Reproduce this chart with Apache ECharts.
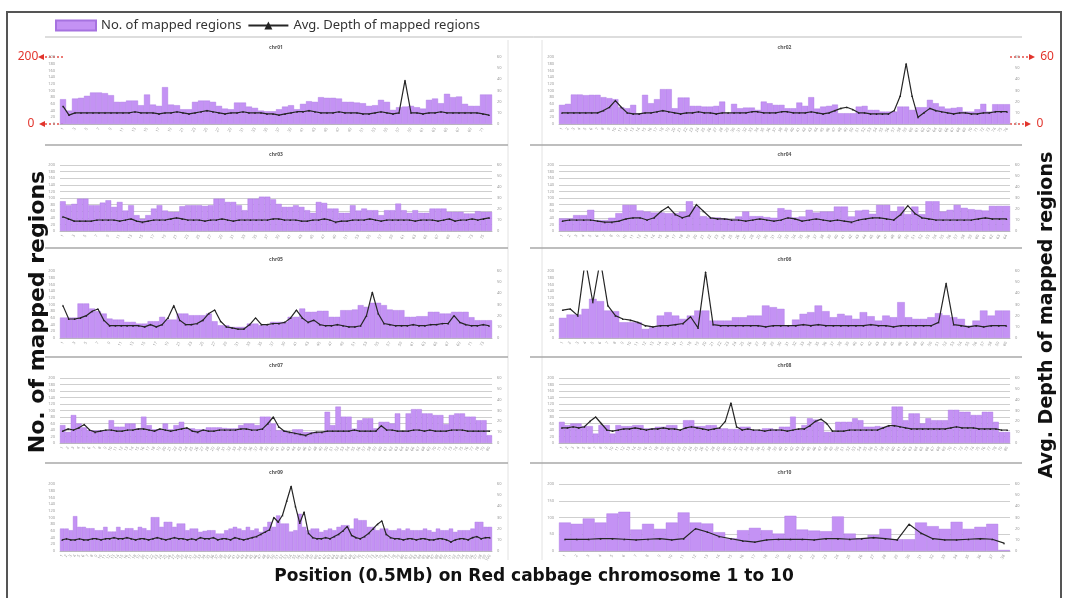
<!DOCTYPE html>
<html>
<head>
<meta charset="utf-8">
<script src="https://cdn.jsdelivr.net/npm/echarts@6/dist/echarts.min.js"></script>
<style>
html, body { margin: 0; padding: 0; background: #fff; }
#main { width: 1068px; height: 598px; }
</style>
</head>
<body>
<div id="main"></div>
<script>
// No. of mapped regions (left axis) and avg. depth (right axis) per 0.5 Mb bin
const chr01Count = [74, 40, 76, 78, 84, 94, 94, 92, 86, 66, 66, 70, 70, 56, 88, 58, 54, 110, 58, 56,
  44, 44, 66, 70, 70, 66, 54, 46, 44, 64, 64, 52, 48, 40, 38, 38, 44, 52, 56, 44,
  60, 68, 66, 80, 78, 78, 76, 66, 66, 64, 62, 54, 56, 72, 66, 42, 50, 52, 54, 50,
  46, 72, 76, 62, 90, 80, 82, 60, 54, 54, 88, 88];
const chr01Depth = [16, 8, 10, 10, 10, 10, 10, 10, 10, 10, 10, 10, 11, 10, 10, 10, 9, 10, 10, 11,
  10, 9, 10, 11, 12, 11, 10, 9, 10, 10, 11, 10, 10, 10, 9, 9, 8, 9, 10, 11,
  11, 12, 11, 10, 10, 10, 11, 10, 10, 10, 9, 9, 10, 11, 10, 9, 10, 39, 10, 10,
  9, 10, 10, 11, 10, 10, 10, 10, 10, 10, 9, 8];

const chr02Count = [57, 60, 88, 88, 86, 87, 87, 80, 77, 74, 50, 47, 57, 32, 87, 62, 74, 104, 104, 47,
  79, 79, 54, 54, 52, 52, 54, 67, 32, 60, 47, 49, 49, 42, 67, 62, 57, 57, 47, 47,
  64, 54, 80, 46, 52, 54, 58, 32, 32, 32, 52, 54, 42, 42, 37, 37, 37, 52, 52, 42,
  50, 50, 72, 62, 52, 46, 48, 50, 37, 37, 44, 60, 37, 59, 59, 59];
const chr02Depth = [10, 10, 10, 10, 10, 10, 10, 12, 15, 21, 15, 10, 9, 9, 10, 10, 11, 12, 11, 10,
  9, 10, 10, 11, 10, 10, 9, 10, 10, 10, 10, 10, 11, 11, 10, 10, 10, 11, 11, 10,
  10, 10, 11, 10, 9, 10, 12, 14, 15, 13, 10, 10, 9, 9, 9, 9, 12, 25, 54, 25,
  6, 10, 14, 12, 11, 10, 9, 10, 10, 9, 9, 10, 10, 11, 11, 11];

const chr03Count = [90, 78, 82, 98, 98, 78, 78, 86, 93, 73, 88, 62, 78, 48, 37, 48, 68, 78, 62, 58,
  58, 75, 78, 78, 78, 76, 78, 98, 98, 88, 88, 78, 63, 98, 98, 104, 104, 96, 82, 73,
  73, 78, 73, 63, 55, 88, 85, 68, 68, 55, 55, 78, 62, 68, 63, 63, 48, 63, 63, 83,
  63, 55, 63, 55, 55, 68, 68, 68, 58, 58, 58, 53, 53, 60, 58, 58];
const chr03Depth = [13, 11, 9, 9, 9, 9, 10, 10, 10, 10, 9, 10, 11, 9, 8, 9, 10, 10, 10, 11,
  12, 11, 10, 10, 10, 9, 10, 10, 11, 10, 9, 10, 10, 10, 10, 10, 10, 11, 11, 10,
  10, 10, 9, 9, 10, 10, 11, 10, 8, 9, 9, 10, 10, 10, 11, 10, 9, 10, 10, 10,
  10, 10, 9, 10, 10, 10, 9, 10, 11, 9, 10, 10, 11, 10, 11, 12];

const chr04Count = [38, 38, 48, 48, 64, 33, 33, 40, 54, 79, 79, 62, 59, 56, 56, 54, 54, 58, 90, 74,
  45, 41, 41, 38, 36, 44, 59, 45, 45, 42, 40, 69, 64, 41, 44, 64, 56, 59, 59, 74,
  74, 44, 62, 64, 52, 79, 79, 60, 74, 51, 74, 51, 90, 90, 59, 64, 79, 70, 66, 64,
  62, 76, 76, 76];
const chr04Depth = [9, 10, 10, 10, 10, 9, 8, 8, 9, 11, 12, 12, 10, 12, 18, 22, 15, 12, 14, 24,
  18, 12, 11, 11, 10, 10, 9, 10, 11, 10, 9, 10, 12, 11, 9, 10, 11, 10, 9, 10,
  9, 8, 10, 11, 12, 12, 11, 10, 15, 23, 16, 12, 11, 10, 10, 10, 10, 10, 10, 11,
  12, 11, 11, 11];

const chr05Count = [61, 61, 61, 103, 103, 88, 80, 73, 58, 55, 55, 48, 48, 43, 43, 50, 50, 63, 55, 55,
  73, 73, 68, 68, 68, 73, 50, 38, 38, 33, 33, 33, 43, 43, 38, 38, 48, 48, 48, 63,
  63, 88, 78, 78, 81, 81, 63, 63, 83, 83, 85, 98, 93, 105, 105, 98, 85, 83, 83, 63,
  63, 65, 65, 78, 78, 73, 73, 78, 78, 78, 62, 53, 53, 53];
const chr05Depth = [29, 17, 17, 18, 20, 24, 26, 16, 11, 11, 11, 11, 11, 11, 10, 12, 10, 12, 18, 29,
  16, 12, 12, 13, 16, 22, 25, 15, 10, 9, 8, 8, 12, 18, 12, 12, 13, 13, 14, 18,
  25, 18, 14, 16, 12, 11, 11, 12, 11, 10, 10, 11, 20, 41, 22, 13, 12, 11, 11, 11,
  12, 11, 11, 12, 12, 13, 13, 20, 14, 12, 11, 11, 12, 11];

const chr06Count = [60, 70, 70, 87, 117, 110, 82, 80, 47, 47, 47, 27, 32, 67, 77, 67, 57, 67, 82, 82,
  52, 52, 52, 62, 62, 67, 67, 97, 92, 87, 37, 55, 72, 77, 97, 80, 62, 72, 67, 57,
  77, 65, 52, 67, 62, 107, 62, 57, 57, 62, 74, 68, 62, 57, 37, 52, 82, 67, 82, 82];
const chr06Depth = [25, 26, 20, 70, 32, 70, 29, 20, 17, 16, 14, 11, 10, 11, 11, 12, 13, 19, 9, 59,
  12, 11, 11, 11, 11, 11, 11, 10, 11, 11, 11, 11, 12, 11, 12, 11, 11, 11, 11, 11,
  11, 12, 11, 11, 10, 11, 11, 11, 11, 11, 14, 49, 12, 11, 10, 11, 10, 11, 11, 11];

const chr07Count = [55, 34, 86, 60, 48, 39, 39, 39, 39, 70, 50, 50, 60, 60, 45, 81, 55, 42, 42, 60,
  42, 55, 65, 45, 45, 42, 42, 48, 48, 48, 46, 45, 45, 55, 60, 60, 55, 81, 81, 60,
  39, 39, 34, 42, 42, 34, 34, 34, 34, 96, 55, 112, 81, 81, 44, 70, 76, 76, 45, 65,
  65, 60, 91, 37, 91, 104, 104, 91, 91, 86, 86, 58, 86, 91, 91, 81, 81, 70, 70, 24];
const chr07Depth = [11, 13, 12, 14, 17, 12, 10, 11, 12, 12, 11, 11, 12, 12, 13, 13, 12, 11, 13, 12,
  11, 12, 13, 14, 11, 10, 12, 11, 11, 12, 12, 12, 12, 13, 13, 12, 12, 13, 18, 24,
  15, 11, 10, 9, 8, 7, 9, 10, 10, 11, 11, 11, 11, 11, 12, 11, 11, 11, 11, 16,
  12, 12, 11, 11, 11, 12, 12, 11, 12, 11, 11, 11, 12, 12, 12, 11, 11, 11, 11, 11];

const chr08Count = [65, 55, 60, 60, 52, 52, 29, 55, 55, 29, 55, 52, 52, 55, 55, 45, 45, 50, 50, 55,
  55, 40, 70, 70, 52, 52, 55, 55, 45, 45, 43, 43, 50, 50, 40, 40, 45, 45, 42, 50,
  50, 81, 42, 55, 76, 72, 65, 34, 34, 65, 65, 65, 76, 70, 50, 50, 52, 50, 50, 112,
  112, 70, 91, 91, 60, 76, 70, 70, 70, 102, 102, 96, 96, 86, 86, 96, 96, 65, 34, 34];
const chr08Depth = [14, 14, 15, 14, 15, 20, 24, 18, 12, 11, 12, 13, 13, 14, 13, 12, 13, 13, 14, 13,
  13, 12, 14, 15, 14, 13, 12, 13, 14, 20, 37, 15, 12, 13, 12, 12, 11, 12, 12, 12,
  11, 12, 13, 13, 16, 20, 22, 18, 11, 11, 11, 12, 12, 12, 12, 12, 12, 14, 16, 16,
  15, 14, 13, 13, 13, 13, 13, 13, 13, 14, 15, 14, 14, 14, 13, 13, 13, 13, 12, 12];

const chr09Count = [67, 67, 62, 104, 72, 72, 68, 68, 62, 62, 72, 58, 58, 72, 62, 68, 68, 62, 72, 68,
  62, 101, 101, 72, 87, 87, 72, 82, 82, 62, 67, 67, 57, 60, 62, 62, 52, 52, 62, 67,
  72, 67, 62, 72, 62, 67, 57, 72, 87, 72, 106, 82, 82, 58, 62, 111, 72, 62, 67, 67,
  57, 62, 67, 62, 72, 77, 77, 67, 97, 92, 92, 72, 72, 62, 67, 67, 62, 62, 67, 62,
  67, 62, 62, 62, 67, 62, 57, 67, 62, 62, 67, 57, 62, 62, 62, 67, 87, 87, 72, 72];
const chr09Depth = [10, 11, 10, 10, 11, 10, 10, 11, 11, 10, 11, 11, 12, 11, 11, 12, 11, 10, 11, 11,
  10, 11, 12, 11, 10, 11, 12, 11, 11, 10, 11, 10, 12, 11, 11, 12, 10, 11, 11, 10,
  12, 11, 10, 11, 12, 13, 15, 17, 19, 30, 26, 32, 45, 58, 40, 25, 35, 16, 12, 11,
  11, 12, 11, 13, 15, 18, 22, 14, 12, 11, 13, 16, 20, 24, 27, 15, 12, 11, 11, 10,
  11, 11, 10, 11, 11, 10, 10, 11, 11, 10, 8, 10, 11, 11, 10, 12, 13, 11, 12, 12];

const chr10Count = [85, 81, 97, 85, 112, 117, 64, 81, 66, 85, 115, 85, 82, 56, 38, 62, 69, 62, 52, 105,
  64, 61, 59, 103, 52, 38, 48, 66, 35, 35, 85, 74, 66, 87, 66, 72, 81, 3];
const chr10Depth = [10.5, 10.5, 10.5, 11, 11, 10.5, 10, 10.5, 11, 10, 11, 20, 17, 13, 11, 9, 8, 10, 10.5, 10.5,
  10.5, 10, 11, 11, 10.5, 11, 12, 11, 10, 24, 16, 11, 10, 10, 10.5, 11, 10.5, 7];

const panelNames = ['chr01', 'chr02', 'chr03', 'chr04', 'chr05', 'chr06', 'chr07', 'chr08', 'chr09', 'chr10'];
const countData = [chr01Count, chr02Count, chr03Count, chr04Count, chr05Count, chr06Count, chr07Count, chr08Count, chr09Count, chr10Count];
const depthData = [chr01Depth, chr02Depth, chr03Depth, chr04Depth, chr05Depth, chr06Depth, chr07Depth, chr08Depth, chr09Depth, chr10Depth];
const countMax = 200;
const depthMax = 60;
const countStep = [20, 20, 20, 20, 20, 20, 20, 20, 20, 50];
const depthStep = 10;
const showGridLines = [false, false, true, true, false, false, true, true, false, true];
const labelSkip = [1, 0, 1, 0, 1, 0, 0, 0, 0, 0];

const NAME_COUNT = 'No. of mapped regions';
const NAME_DEPTH = 'Avg. Depth of mapped regions';

// layout of the panels
const colLeft = [60, 559];
const colWidth = [432, 451];
const rowTop = [57, 165, 271, 378, 484];
const rowBottom = [124, 231, 338, 443, 551];
const titleY = [48, 155, 260, 366, 473];

const FONT = '"Noto Sans", "DejaVu Sans", sans-serif';
const BOLD = '"DejaVu Sans", "Noto Sans", sans-serif';
const red = '#e2342c';

const grids = [], xAxes = [], yAxes = [], series = [], graphics = [];

panelNames.forEach((name, i) => {
  const col = i % 2, row = Math.floor(i / 2);
  const cats = countData[i].map((v, k) => String(k + 1));
  grids.push({
    left: colLeft[col], top: rowTop[row], width: colWidth[col],
    height: rowBottom[row] - rowTop[row], outerBoundsMode: 'none'
  });
  xAxes.push({
    gridIndex: i, type: 'category', data: cats, boundaryGap: true,
    axisTick: { show: false },
    axisLine: { lineStyle: { color: '#bdbdbd', width: 1 } },
    axisLabel: { interval: labelSkip[i], rotate: 60, fontSize: 4, color: '#999', margin: 4, fontFamily: FONT }
  });
  yAxes.push({
    gridIndex: i, type: 'value', min: 0, max: countMax, interval: countStep[i], position: 'left',
    axisLine: { show: false }, axisTick: { show: false },
    axisLabel: { fontSize: 4, color: '#999', margin: 5, fontFamily: FONT },
    splitLine: { show: showGridLines[i], lineStyle: { color: '#cfcfcf', width: 1 } }
  });
  yAxes.push({
    gridIndex: i, type: 'value', min: 0, max: depthMax, interval: depthStep, position: 'right',
    axisLine: { show: false }, axisTick: { show: false },
    axisLabel: { fontSize: 4, color: '#999', margin: 5, fontFamily: FONT },
    splitLine: { show: false }
  });
  series.push({
    name: NAME_COUNT, type: 'bar', xAxisIndex: i, yAxisIndex: 2 * i,
    data: countData[i], barCategoryGap: '0%',
    itemStyle: { color: '#c492f4', borderColor: '#a672e0', borderWidth: 0.4 }
  });
  series.push({
    name: NAME_DEPTH, type: 'line', xAxisIndex: i, yAxisIndex: 2 * i + 1,
    data: depthData[i], symbol: 'triangle', symbolSize: 2, z: 5,
    lineStyle: { color: '#262626', width: 1.2 }, itemStyle: { color: '#222' }
  });
  graphics.push({
    type: 'text', x: colLeft[col] + colWidth[col] / 2, y: titleY[row],
    style: { text: name, font: 'bold 5px ' + FONT, fill: '#555', textAlign: 'center', textVerticalAlign: 'middle' }
  });
});

// frame, separators
graphics.push(
  { type: 'rect', shape: { x: 7, y: 12, width: 1054, height: 590 }, style: { fill: null, stroke: '#555', lineWidth: 2 } },
  { type: 'line', shape: { x1: 45, y1: 37, x2: 1022, y2: 37 }, style: { stroke: '#bbb', lineWidth: 1 } },
  { type: 'line', shape: { x1: 508, y1: 40, x2: 508, y2: 560 }, style: { stroke: '#e2e2e2', lineWidth: 1 } },
  { type: 'line', shape: { x1: 542, y1: 40, x2: 542, y2: 560 }, style: { stroke: '#e2e2e2', lineWidth: 1 } }
);
[145, 248, 357, 463].forEach(y => {
  graphics.push(
    { type: 'line', shape: { x1: 45, y1: y, x2: 508, y2: y }, style: { stroke: '#a8a8a8', lineWidth: 1.5 } },
    { type: 'line', shape: { x1: 530, y1: y, x2: 1022, y2: y }, style: { stroke: '#a8a8a8', lineWidth: 1.5 } }
  );
});

// red scale marks
function arrow(tipX, y, fromX, dir) {
  const back = tipX - dir * 6;
  graphics.push(
    { type: 'line', shape: { x1: fromX, y1: y, x2: back, y2: y }, style: { stroke: red, lineWidth: 1.3, lineDash: [2, 2] } },
    { type: 'polygon', shape: { points: [[tipX, y], [back, y - 3], [back, y + 3]] }, style: { fill: red } }
  );
}
arrow(38, 57, 63, -1);
arrow(39, 124, 63, -1);
arrow(1035, 57, 1010, 1);
arrow(1031, 124, 1010, 1);
graphics.push(
  { type: 'text', x: 28, y: 57, style: { text: '200', font: '12px ' + FONT, fill: red, textAlign: 'center', textVerticalAlign: 'middle' } },
  { type: 'text', x: 31, y: 124, style: { text: '0', font: '12px ' + FONT, fill: red, textAlign: 'center', textVerticalAlign: 'middle' } },
  { type: 'text', x: 1047, y: 57, style: { text: '60', font: '12px ' + FONT, fill: red, textAlign: 'center', textVerticalAlign: 'middle' } },
  { type: 'text', x: 1040, y: 124, style: { text: '0', font: '12px ' + FONT, fill: red, textAlign: 'center', textVerticalAlign: 'middle' } }
);

// axis titles
graphics.push(
  { type: 'text', x: 38, y: 312, rotation: Math.PI / 2,
    style: { text: 'No. of mapped regions', font: 'bold 22px ' + BOLD, fill: '#111', textAlign: 'center', textVerticalAlign: 'middle' } },
  { type: 'text', x: 1047, y: 315, rotation: Math.PI / 2,
    style: { text: 'Avg. Depth of mapped regions', font: 'bold 19px ' + BOLD, fill: '#111', textAlign: 'center', textVerticalAlign: 'middle' } },
  { type: 'text', x: 534, y: 577,
    style: { text: 'Position (0.5Mb) on Red cabbage chromosome 1 to 10', font: 'bold 17px ' + BOLD, fill: '#111', textAlign: 'center', textVerticalAlign: 'middle' } }
);

const chart = echarts.init(document.getElementById('main'), null, { renderer: 'canvas' });
chart.setOption({
  animation: false,
  backgroundColor: '#fff',
  legend: {
    left: 50, top: 14, itemWidth: 40, itemHeight: 10, itemGap: 6,
    textStyle: { fontSize: 13, color: '#333', fontFamily: FONT },
    data: [{ name: NAME_COUNT, icon: 'rect' }, { name: NAME_DEPTH }]
  },
  grid: grids,
  xAxis: xAxes,
  yAxis: yAxes,
  series: series,
  graphic: { elements: graphics }
});
</script>
</body>
</html>
